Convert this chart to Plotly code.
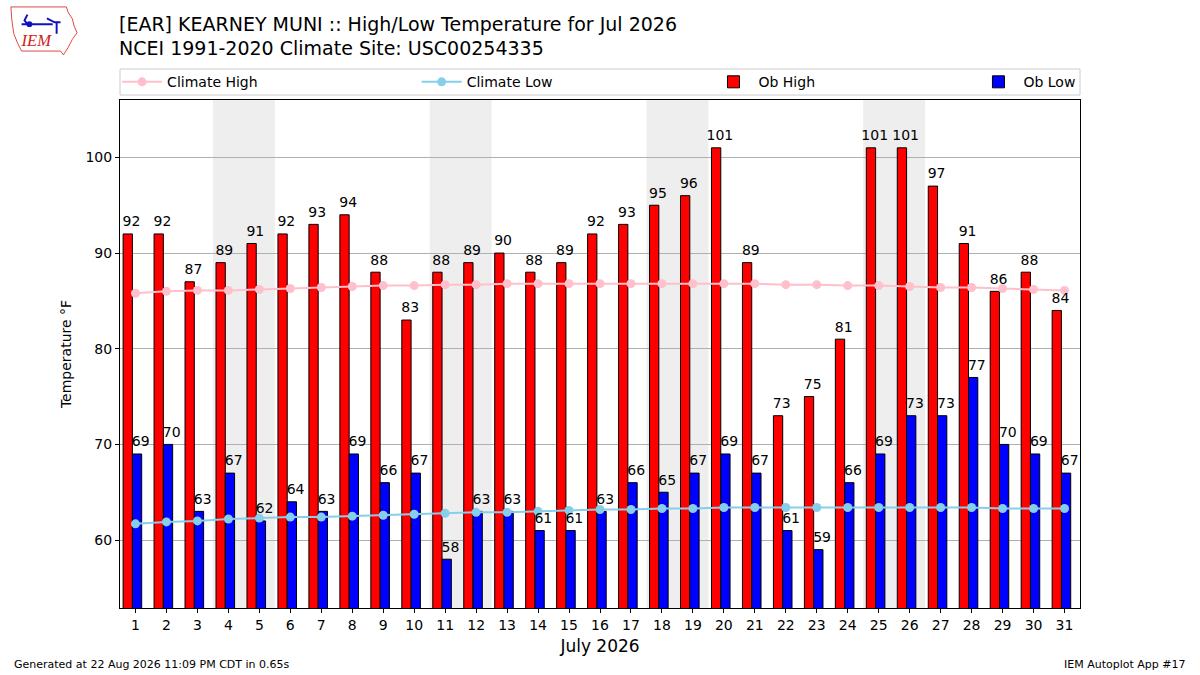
import datetime
import urllib.parse
import plotly.graph_objs as go

days = list(range(1, 32))
ob_high = [92, 92, 87, 89, 91, 92, 93, 94, 88, 83, 88, 89, 90, 88, 89, 92,
           93, 95, 96, 101, 89, 73, 75, 81, 101, 101, 97, 91, 86, 88, 84]
ob_low = [69, 70, 63, 67, 62, 64, 63, 69, 66, 67, 58, 63, 63, 61, 61, 63,
          66, 65, 67, 69, 67, 61, 59, 66, 69, 73, 73, 77, 70, 69, 67]
climate_high = [85.8, 86.0, 86.1, 86.1, 86.2, 86.3, 86.4, 86.5, 86.6, 86.6, 86.7,
                86.7, 86.8, 86.8, 86.8, 86.8, 86.8, 86.8, 86.8, 86.8, 86.8, 86.7,
                86.7, 86.6, 86.6, 86.5, 86.4, 86.4, 86.3, 86.2, 86.1]
climate_low = [61.7, 61.9, 62.0, 62.2, 62.3, 62.4, 62.4, 62.5, 62.6, 62.7, 62.8,
               62.9, 62.9, 63.0, 63.1, 63.2, 63.2, 63.3, 63.3, 63.4, 63.4, 63.4,
               63.4, 63.4, 63.4, 63.4, 63.4, 63.4, 63.3, 63.3, 63.3]
year, month = 2026, 7

FONT = "DejaVu Sans"

fig = go.Figure()

fig.add_trace(go.Bar(x=days, y=ob_high, name="Ob High", offset=-0.4, width=0.3,
                     marker=dict(color="red", line=dict(color="black", width=1)),
                     legend="legend3"))
fig.add_trace(go.Bar(x=days, y=ob_low, name="Ob Low", offset=-0.1, width=0.3,
                     marker=dict(color="blue", line=dict(color="black", width=1)),
                     legend="legend4"))
fig.add_trace(go.Scatter(x=days, y=climate_high, name="Climate High", mode="lines+markers",
                         line=dict(color="pink", width=2), marker=dict(size=9, color="pink"),
                         legend="legend"))
fig.add_trace(go.Scatter(x=days, y=climate_low, name="Climate Low", mode="lines+markers",
                         line=dict(color="skyblue", width=2), marker=dict(size=9, color="skyblue"),
                         legend="legend2"))

# value labels above each bar (transparent marker pushes the text up a little)
for xs, vals in (([d - 0.13 for d in days], ob_high), ([d + 0.17 for d in days], ob_low)):
    fig.add_trace(go.Scatter(x=xs, y=vals, mode="markers+text",
                             marker=dict(size=5, color="rgba(0,0,0,0)"),
                             text=[str(v) for v in vals], textposition="top center",
                             textfont=dict(family=FONT, size=14, color="black"),
                             showlegend=False, hoverinfo="skip", cliponaxis=False))

# weekend shading
for d in days:
    if datetime.date(year, month, d).weekday() == 5:
        fig.add_vrect(x0=d - 0.5, x1=d + 1.5, fillcolor="#eeeeee", line_width=0, layer="below")

# legend frame
fig.add_shape(type="rect", xref="paper", yref="paper", x0=0, x1=1, y0=1.0098, y1=1.061,
              line=dict(color="#cccccc", width=1), fillcolor="white", layer="below")

leg_common = dict(orientation="h", yref="paper", y=1.035, yanchor="middle",
                  xanchor="left", bgcolor="rgba(0,0,0,0)", itemwidth=40,
                  font=dict(family=FONT, size=14, color="black"))
legend_x = [-0.003, 0.309, 0.613, 0.889]

svg = ('<svg xmlns="http://www.w3.org/2000/svg" width="72" height="54" viewBox="0 0 72 54">'
       '<path d="M3,2 L60,2 L62,8 L66,14 L68,22 L71,29 L66,36 L62,44 L57,52 L54,48 L14,48 '
       'L10,40 L6,30 L4,16 Z" fill="none" stroke="#e04040" stroke-width="1"/>'
       '<path d="M14,20 L46,20 M40,14 L48,18 L54,18 M50,18 L50,30 M20,10 L17,16 L20,20" '
       'fill="none" stroke="#1010c0" stroke-width="2"/>'
       '<circle cx="22" cy="20" r="3" fill="#1010c0"/>'
       '<text x="14" y="43" font-family="serif" font-style="italic" font-size="17" '
       'fill="#d02020">IEM</text></svg>')
fig.add_layout_image(source="data:image/svg+xml;charset=utf-8," + urllib.parse.quote(svg),
                     xref="paper", yref="paper", x=-0.1167, y=1.187, sizex=0.073, sizey=0.102,
                     xanchor="left", yanchor="top", sizing="stretch", layer="above")

fig.update_layout(
    width=1200, height=675,
    margin=dict(l=120, r=120, t=100, b=67),
    paper_bgcolor="white", plot_bgcolor="white",
    barmode="overlay",
    font=dict(family=FONT, size=14, color="black"),
    legend=dict(x=legend_x[0], **leg_common),
    legend2=dict(x=legend_x[1], **leg_common),
    legend3=dict(x=legend_x[2], **leg_common),
    legend4=dict(x=legend_x[3], **leg_common),
    xaxis=dict(range=[0.5, 31.5], tickmode="array", tickvals=days,
               ticktext=[str(d) for d in days], ticks="outside", ticklen=4,
               tickcolor="black", showline=True, linecolor="black", linewidth=1,
               mirror=True, showgrid=False, zeroline=False,
               title=dict(text="July 2026", font=dict(size=17), standoff=8),
               tickfont=dict(size=14)),
    yaxis=dict(range=[52.9, 106], tickvals=[60, 70, 80, 90, 100], ticks="outside",
               ticklen=4, tickcolor="black", showline=True, linecolor="black",
               linewidth=1, mirror=True, showgrid=True, gridcolor="#b0b0b0",
               zeroline=False, title=dict(text="Temperature °F", font=dict(size=14), standoff=10),
               tickfont=dict(size=14)),
    annotations=[
        dict(text="[EAR] KEARNEY MUNI :: High/Low Temperature for Jul 2026", xref="paper",
             yref="paper", x=0, xshift=-3, y=1.1496, xanchor="left", yanchor="middle",
             showarrow=False, font=dict(family=FONT, size=19)),
        dict(text="NCEI 1991-2020 Climate Site: USC00254335", xref="paper",
             yref="paper", x=0, xshift=-3, y=1.1024, xanchor="left", yanchor="middle",
             showarrow=False, font=dict(family=FONT, size=19)),
        dict(text="Generated at 22 Aug 2026 11:09 PM CDT in 0.65s", xref="paper", yref="paper",
             x=-0.1125, y=-0.112, xanchor="left", yanchor="middle", showarrow=False,
             font=dict(family=FONT, size=11)),
        dict(text="IEM Autoplot App #17", xref="paper", yref="paper",
             x=1.1125, y=-0.112, xanchor="right", yanchor="middle", showarrow=False,
             font=dict(family=FONT, size=11)),
    ],
)

fig.write_html("out.html", config={"displayModeBar": False},
               post_script="document.body.style.margin='0';")
